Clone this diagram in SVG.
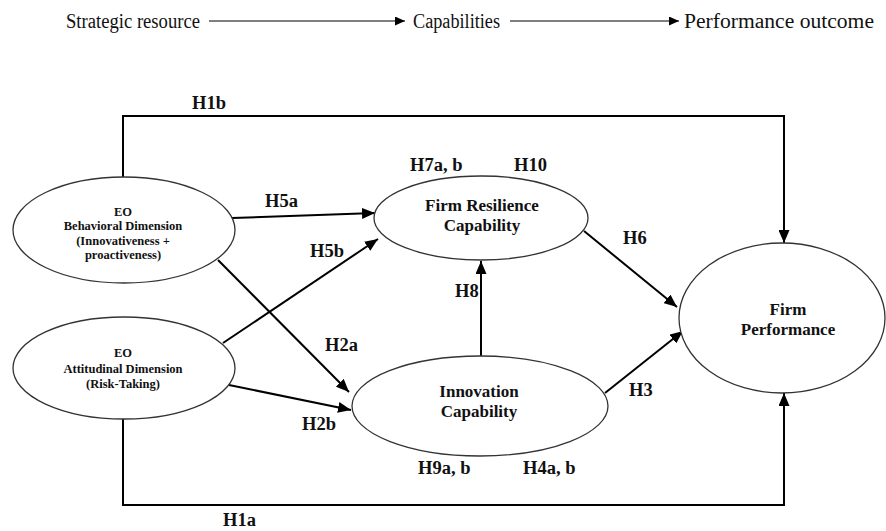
<svg xmlns="http://www.w3.org/2000/svg" width="886" height="531" viewBox="0 0 886 531">
<style>
  .node { fill: #ffffff; stroke: #333333; stroke-width: 1.3; }
  .conn { fill: none; stroke: #000000; stroke-width: 2; }
  .leg { fill: none; stroke: #000000; stroke-width: 1.2; }
  .lbl { font-family: "Liberation Serif", "Times New Roman", serif; font-weight: bold; font-size: 18.5px; fill: #111111; }
  .nt { font-family: "Liberation Serif", "Times New Roman", serif; font-weight: bold; font-size: 17px; fill: #111111; text-anchor: middle; }
  .st { font-family: "Liberation Serif", "Times New Roman", serif; font-weight: bold; font-size: 12.5px; fill: #111111; text-anchor: middle; }
  .lt { font-family: "Liberation Serif", "Times New Roman", serif; font-size: 20px; fill: #111111; }
</style>
<defs>
  <marker id="arr" markerUnits="userSpaceOnUse" markerWidth="13" markerHeight="11" refX="13" refY="5.5" orient="auto">
    <path d="M0,0 L13,5.5 L0,11 z" fill="#000000"/>
  </marker>
  <marker id="arrs" markerUnits="userSpaceOnUse" markerWidth="10" markerHeight="9" refX="10" refY="4.5" orient="auto">
    <path d="M0,0 L10,4.5 L0,9 z" fill="#000000"/>
  </marker>
</defs>
<rect width="886" height="531" fill="#ffffff"/>

<g id="legend">
  <text class="lt" x="66" y="28" textLength="134" lengthAdjust="spacingAndGlyphs">Strategic resource</text>
  <line class="leg" x1="209" y1="21" x2="405" y2="21" marker-end="url(#arrs)"/>
  <text class="lt" x="413" y="28" textLength="87" lengthAdjust="spacingAndGlyphs">Capabilities</text>
  <line class="leg" x1="510" y1="21" x2="679" y2="21" marker-end="url(#arrs)"/>
  <text class="lt" x="684" y="28" textLength="190" lengthAdjust="spacingAndGlyphs">Performance outcome</text>
</g>

<g id="connectors">
  <path class="conn" d="M123,177 V116 H784 V243" marker-end="url(#arr)"/>
  <path class="conn" d="M123,419 V505 H784 V393" marker-end="url(#arr)"/>
  <line class="conn" x1="232" y1="218" x2="375" y2="213" marker-end="url(#arr)"/>
  <line class="conn" x1="223" y1="343" x2="378" y2="239" marker-end="url(#arr)"/>
  <line class="conn" x1="218" y1="260" x2="349" y2="392" marker-end="url(#arr)"/>
  <line class="conn" x1="229" y1="385" x2="351" y2="410" marker-end="url(#arr)"/>
  <line class="conn" x1="481" y1="357" x2="481" y2="261" marker-end="url(#arr)"/>
  <line class="conn" x1="584" y1="231" x2="677" y2="307" marker-end="url(#arr)"/>
  <line class="conn" x1="605" y1="393" x2="683" y2="331" marker-end="url(#arr)"/>
</g>

<g id="labels">
  <text class="lbl" x="192" y="109">H1b</text>
  <text class="lbl" x="223" y="526">H1a</text>
  <text class="lbl" x="265" y="207">H5a</text>
  <text class="lbl" x="310" y="257">H5b</text>
  <text class="lbl" x="325" y="351">H2a</text>
  <text class="lbl" x="302" y="430">H2b</text>
  <text class="lbl" x="410" y="171">H7a, b</text>
  <text class="lbl" x="514" y="171">H10</text>
  <text class="lbl" x="455" y="297">H8</text>
  <text class="lbl" x="623" y="244">H6</text>
  <text class="lbl" x="629" y="396">H3</text>
  <text class="lbl" x="418" y="474">H9a, b</text>
  <text class="lbl" x="523" y="474">H4a, b</text>
</g>

<g id="eo-behavioral">
  <ellipse class="node" cx="124" cy="230" rx="111" ry="53"/>
  <text class="st" x="123" y="216">EO</text>
  <text class="st" x="123" y="230">Behavioral Dimension</text>
  <text class="st" x="123" y="245">(Innovativeness +</text>
  <text class="st" x="123" y="259">proactiveness)</text>
</g>

<g id="eo-attitudinal">
  <ellipse class="node" cx="124" cy="368" rx="111" ry="51"/>
  <text class="st" x="123" y="357">EO</text>
  <text class="st" x="123" y="373">Attitudinal Dimension</text>
  <text class="st" x="123" y="388">(Risk-Taking)</text>
</g>

<g id="firm-resilience">
  <ellipse class="node" cx="481" cy="218" rx="107" ry="42"/>
  <text class="nt" x="482" y="211">Firm Resilience</text>
  <text class="nt" x="482" y="231">Capability</text>
</g>

<g id="innovation">
  <ellipse class="node" cx="480" cy="406" rx="128" ry="50"/>
  <text class="nt" x="479" y="397">Innovation</text>
  <text class="nt" x="479" y="417">Capability</text>
</g>

<g id="firm-performance">
  <ellipse class="node" cx="782" cy="318" rx="103" ry="75"/>
  <text class="nt" x="788" y="315">Firm</text>
  <text class="nt" x="788" y="335">Performance</text>
</g>
</svg>
